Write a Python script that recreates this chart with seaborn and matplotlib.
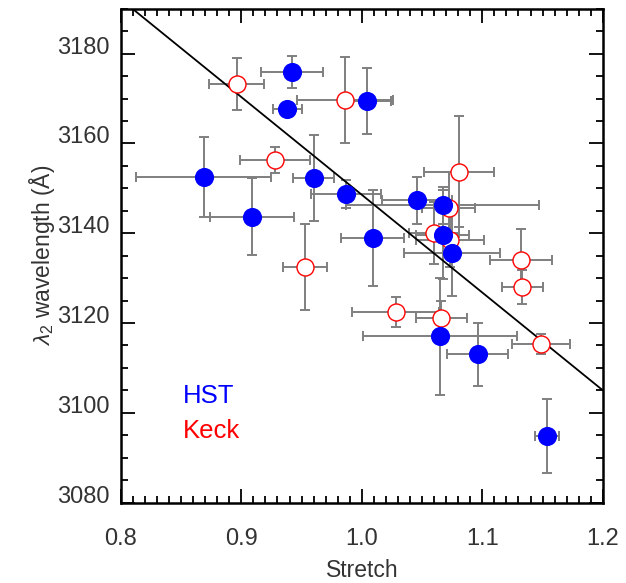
import numpy as np
import pandas as pd
import matplotlib
matplotlib.use("Agg")
import matplotlib.pyplot as plt
import seaborn as sns
from matplotlib.ticker import MultipleLocator, FormatStrFormatter

# ---- data ----
hst_stretch = [0.942, 0.938, 1.004, 0.869, 0.909, 0.960, 0.987, 1.009, 1.046, 1.067, 1.067, 1.075, 1.065, 1.096, 1.154]
hst_lambda = [3175.9, 3167.6, 3169.5, 3152.6, 3143.7, 3152.3, 3148.8, 3139.0, 3147.3, 3146.2, 3139.7, 3135.6, 3117.0, 3113.0, 3094.8]
hst_stretch_err = [0.026, 0.012, 0.020, 0.056, 0.035, 0.017, 0.029, 0.026, 0.029, 0.080, 0.022, 0.040, 0.064, 0.025, 0.010]
hst_lambda_err = [3.5, 1.5, 7.4, 8.9, 8.6, 9.5, 3.1, 10.7, 5.3, 4.1, 10.0, 9.6, 13.1, 7.1, 8.3]

keck_stretch = [0.896, 0.986, 0.928, 1.081, 1.072, 1.060, 1.073, 1.132, 1.133, 1.028, 1.066, 0.953, 1.149]
keck_lambda = [3173.3, 3169.6, 3156.2, 3153.7, 3145.6, 3140.0, 3138.5, 3134.1, 3128.0, 3122.4, 3121.0, 3132.4, 3115.3]
keck_stretch_err = [0.023, 0.040, 0.029, 0.029, 0.022, 0.021, 0.028, 0.026, 0.017, 0.036, 0.021, 0.018, 0.024]
keck_lambda_err = [5.8, 9.6, 2.9, 12.3, 8.0, 6.9, 6.0, 6.8, 3.8, 3.4, 3.8, 9.6, 2.2]

fit_stretch = [0.80, 1.20]
fit_lambda = [3192.1, 3105.0]

hst = pd.DataFrame({"Stretch": hst_stretch, "lam": hst_lambda})
keck = pd.DataFrame({"Stretch": keck_stretch, "lam": keck_lambda})

sns.set_theme(style="ticks")
plt.rcParams["font.family"] = ["Liberation Sans", "DejaVu Sans"]
plt.rcParams["mathtext.fontset"] = "custom"
plt.rcParams["mathtext.it"] = "Liberation Sans:italic"
plt.rcParams["mathtext.rm"] = "Liberation Sans"

fig = plt.figure(figsize=(6.26, 5.83), dpi=100)
ax = fig.add_axes([0.193, 0.138, 0.770, 0.847])

ecol = "#7f7f7f"
ax.errorbar(keck_stretch, keck_lambda, xerr=keck_stretch_err, yerr=keck_lambda_err,
            fmt="none", ecolor=ecol, elinewidth=1.4, capsize=3.5, capthick=1.4, zorder=2)
ax.errorbar(hst_stretch, hst_lambda, xerr=hst_stretch_err, yerr=hst_lambda_err,
            fmt="none", ecolor=ecol, elinewidth=1.4, capsize=3.5, capthick=1.4, zorder=2)

ax.plot(fit_stretch, fit_lambda, color="black", lw=1.3, zorder=2.5)

sns.scatterplot(data=keck, x="Stretch", y="lam", ax=ax, s=150, marker="o",
                facecolor="white", edgecolor="red", linewidth=1.0, zorder=3)
sns.scatterplot(data=hst, x="Stretch", y="lam", ax=ax, s=190, marker="o",
                color="#0000ff", edgecolor="#0000ff", linewidth=0, zorder=4)

ax.set_xlim(0.8, 1.2)
ax.set_ylim(3080, 3190)
ax.xaxis.set_major_locator(MultipleLocator(0.1))
ax.xaxis.set_minor_locator(MultipleLocator(0.01))
ax.yaxis.set_major_locator(MultipleLocator(20))
ax.yaxis.set_minor_locator(MultipleLocator(5))
ax.xaxis.set_major_formatter(FormatStrFormatter("%.1f"))

txtc = "#333333"
ax.tick_params(which="both", direction="in", top=True, right=True, colors="black",
               labelcolor=txtc, labelsize=17, width=1.3)
ax.tick_params(which="major", length=10)
ax.tick_params(which="minor", length=5)
ax.tick_params(axis="x", which="major", pad=18)
ax.tick_params(axis="y", which="major", pad=8)
for s in ax.spines.values():
    s.set_linewidth(1.8)
    s.set_color("black")

ax.set_xlabel("Stretch", fontsize=16.5, color=txtc, labelpad=7)
ax.set_ylabel(r"$\lambda_2$ wavelength (Å)", fontsize=16.5, color=txtc, labelpad=0)

ax.text(0.129, 0.202, "HST", transform=ax.transAxes, color="#0000ff", fontsize=18.5, va="baseline")
ax.text(0.129, 0.131, "Keck", transform=ax.transAxes, color="#ff0000", fontsize=18.5, va="baseline")

fig.canvas.draw()
for lab in ax.get_yticklabels():
    lab.set_va("baseline")

fig.savefig("out.png", dpi=100)
